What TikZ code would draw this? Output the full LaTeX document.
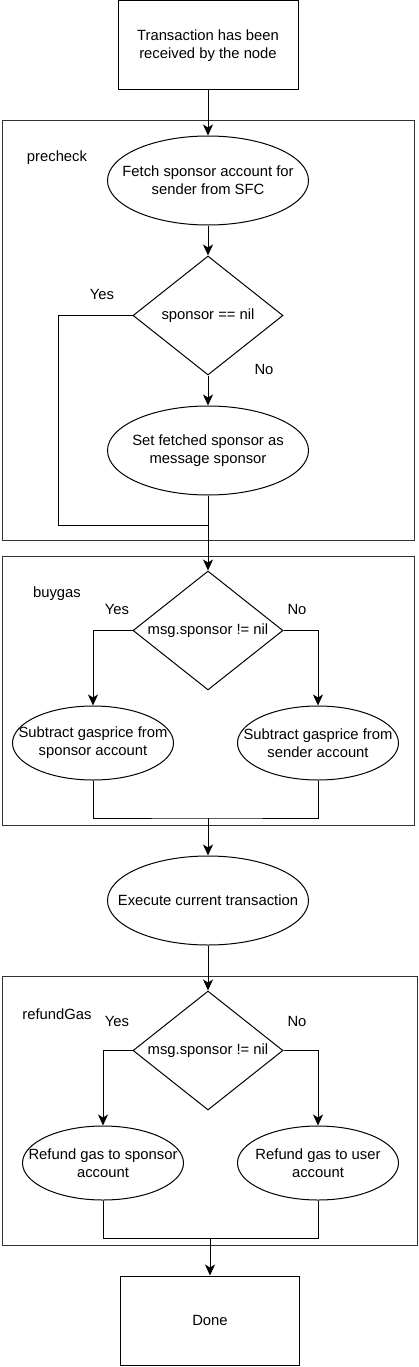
\documentclass[tikz,border=0pt]{standalone}
\usepackage{fontspec}
\setmainfont{Liberation Sans}
\usetikzlibrary{arrows.meta,shapes.geometric}
\begin{document}
\begin{tikzpicture}[x=1pt,y=-1pt,line width=1pt,>={Stealth[length=11pt,width=10pt,inset=3pt]},
    every node/.style={font=\fontsize{14.8}{18}\selectfont},
    box/.style={draw,rectangle,inner sep=0pt,minimum width=180pt,minimum height=89pt,align=center},
    proc/.style={draw,ellipse,inner xsep=-40pt,inner ysep=0pt,align=center},
    test/.style={draw,diamond,inner sep=0pt,aspect=1.26,minimum width=150pt,minimum height=119pt},
    group/.style={draw=black!80,rectangle,inner sep=0pt}]
    \useasboundingbox (0,0) rectangle (419,1367);
    % containers
    \node[group,minimum width=412pt,minimum height=419pt] (precheck) at (208,330.5) {};
    \node[group,minimum width=412pt,minimum height=269pt] (buygas) at (208,690.5) {};
    \node[group,minimum width=415pt,minimum height=269pt] (refundgas) at (209.5,1110.5) {};
    \node (precheckl) at (57,158) {precheck};
    \node (buygasl) at (57,594) {buygas};
    \node (refundgasl) at (57,1014) {refundGas};
    % steps
    \node[box] (recv) at (208,45.5) {Transaction has been\\received by the node};
    \node[proc,minimum width=201pt,minimum height=89pt] (fetch) at (208,180.5) {Fetch sponsor account for\\sender from SFC};
    \node[test] (nilchk) at (208,315.5) {sponsor == nil};
    \node[proc,minimum width=201pt,minimum height=89pt] (setmsg) at (208,450.5) {Set fetched sponsor as\\message sponsor};
    \node[test] (buychk) at (208,630.5) {msg.sponsor != nil};
    \node[proc,minimum width=161pt,minimum height=74pt] (subsp) at (93,743) {Subtract gasprice from\\sponsor account};
    \node[proc,minimum width=161pt,minimum height=74pt] (subsnd) at (318,743) {Subtract gasprice from\\sender account};
    \node[proc,minimum width=201pt,minimum height=89pt] (exec) at (208,900.5) {Execute current transaction};
    \node[test] (refchk) at (208,1050.5) {msg.sponsor != nil};
    \node[proc,minimum width=161pt,minimum height=74pt] (refsp) at (103,1163) {Refund gas to sponsor\\account};
    \node[proc,minimum width=161pt,minimum height=74pt] (refusr) at (318,1163) {Refund gas to user\\account};
    \node[box,minimum width=179pt] (done) at (210,1320.5) {Done};
    % answers
    \node (yes1) at (102,294) {Yes};
    \node (no1) at (264,369) {No};
    \node (yes2) at (117,609) {Yes};
    \node (no2) at (297,609) {No};
    \node (yes3) at (117,1021) {Yes};
    \node (no3) at (297,1021) {No};
    % joins
    \coordinate (yesturn) at (58,525);
    \coordinate (prejoin) at (208,525);
    \coordinate (buyjoin) at (208,818);
    \coordinate (refjoin) at (210,1238);
    % flow
    \draw[->] (recv) -- (fetch);
    \draw[->] (fetch) -- (nilchk);
    \draw[->] (nilchk) -- (setmsg);
    \draw (nilchk.west) -| (yesturn) -- (prejoin);
    \draw[->] (setmsg) -- (buychk);
    \draw[->] (buychk.west) -| (subsp.north);
    \draw[->] (buychk.east) -| (subsnd.north);
    \draw (subsp.south) |- (buyjoin) -| (subsnd.south);
    \draw[->] (buyjoin) -- (exec);
    \draw[->] (exec) -- (refchk);
    \draw[->] (refchk.west) -| (refsp.north);
    \draw[->] (refchk.east) -| (refusr.north);
    \draw (refsp.south) |- (refjoin) -| (refusr.south);
    \draw[->] (refjoin) -- (done);
\end{tikzpicture}
\end{document}
